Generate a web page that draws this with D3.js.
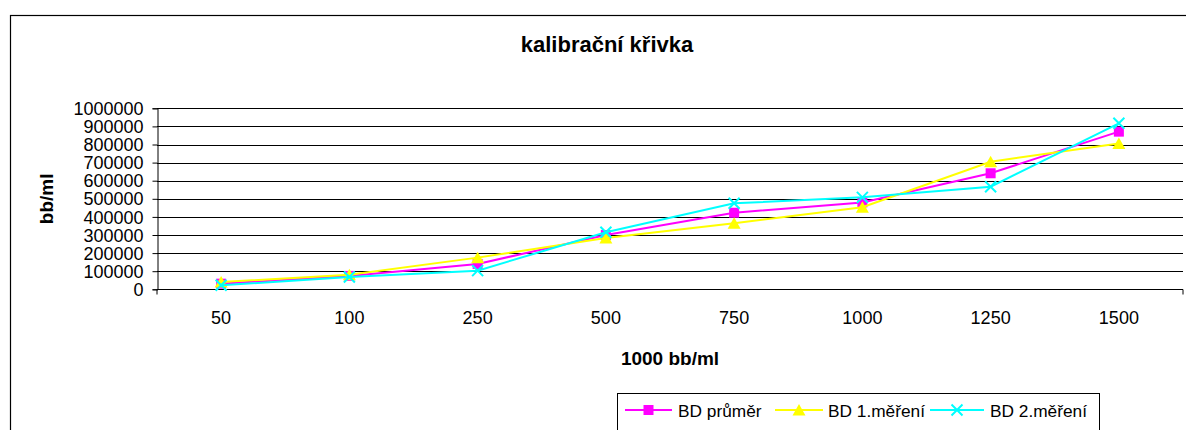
<!DOCTYPE html>
<html><head><meta charset="utf-8">
<script src="https://cdn.jsdelivr.net/npm/d3@7"></script>
<style>
body{margin:0;background:#fff;}
svg text{font-family:"Liberation Sans",Arial,sans-serif;fill:#000;}
</style></head>
<body><svg id="c" width="1186" height="430"></svg>
<script>
const categories = ["50","100","250","500","750","1000","1250","1500"];
const bdPrumer  = [31000, 74000, 140000, 300000, 423000, 480000, 641000, 871000];
const bd1Mereni = [40000, 80000, 175000, 283000, 365000, 453000, 705000, 805000];
const bd2Mereni = [22000, 68000, 103000, 315000, 475000, 508000, 567000, 917000];
const yTicks = [0,100000,200000,300000,400000,500000,600000,700000,800000,900000,1000000];
const seriesNames = ["BD průměr","BD 1.měření","BD 2.měření"];
const seriesColors = ["#FF00FF","#FFFF00","#00FFFF"];
const seriesMarkers = ["square","triangle","x"];
const seriesValues = [bdPrumer, bd1Mereni, bd2Mereni];

const svg = d3.select("#c");
const L = 157, R = 1183, T = 108.3, B = 289.3;
const x = d3.scaleBand().domain(categories).range([L, R]);
const y = d3.scaleLinear().domain([0, 1000000]).range([B, T]);

// chart frame
svg.append("rect").attr("x",10.5).attr("y",15.5).attr("width",1200).attr("height",450)
  .attr("fill","none").attr("stroke","#000").attr("stroke-width",1.2);

// title
svg.append("text").attr("x",607).attr("y",52).attr("text-anchor","middle")
  .style("font-weight","bold").style("font-size","22px").text("kalibrační křivka");

// gridlines
svg.append("g").selectAll("line").data(yTicks.filter(d=>d>0)).join("line")
  .attr("x1",L).attr("x2",R).attr("y1",d=>Math.round(y(d))+0.5).attr("y2",d=>Math.round(y(d))+0.5)
  .attr("stroke","#000").attr("stroke-width",1);

// y axis
const yAxis = d3.axisLeft(y).tickValues(yTicks).tickSize(5).tickPadding(9).tickFormat(d3.format("d"));
const gy = svg.append("g").attr("transform",`translate(${L+0.5},0)`).call(yAxis);
gy.select(".domain").attr("stroke","#000");
gy.selectAll(".tick line").attr("stroke","#000");
gy.selectAll(".tick text").style("font-size","18px").attr("dy","0.34em").attr("fill","#000");

// x axis
const xAxis = d3.axisBottom(x).tickSize(0).tickPadding(22);
const gx = svg.append("g").attr("transform",`translate(0,${Math.round(B)+0.5})`).call(xAxis);
gx.select(".domain").attr("stroke","#000").attr("d",`M${L},5V0H${R}V5`);
gx.selectAll(".tick text").style("font-size","18px").attr("fill","#000");

// axis titles
svg.append("text").attr("x",(L+R)/2).attr("y",365).attr("text-anchor","middle")
  .style("font-weight","bold").style("font-size","19px").text("1000 bb/ml");
svg.append("text").attr("transform",`translate(53,${(T+B)/2}) rotate(-90)`).attr("text-anchor","middle")
  .style("font-weight","bold").style("font-size","19px").text("bb/ml");

const cx = d => x(d) + x.bandwidth()/2;
function drawMarker(g, type, color, px, py){
  if(type==="square"){
    g.append("rect").attr("x",px-5).attr("y",py-5).attr("width",10).attr("height",10).attr("fill",color);
  } else if(type==="triangle"){
    g.append("path").attr("d",`M${px},${py-6}L${px+6.5},${py+5.5}L${px-6.5},${py+5.5}Z`).attr("fill",color);
  } else {
    g.append("path").attr("d",`M${px-5.5},${py-5.5}L${px+5.5},${py+5.5}M${px+5.5},${py-5.5}L${px-5.5},${py+5.5}`)
      .attr("stroke",color).attr("stroke-width",2).attr("fill","none");
  }
}

const line = d3.line().x((d,i)=>cx(categories[i])).y(d=>y(d));
seriesValues.forEach((vals, si) => {
  const g = svg.append("g");
  g.append("path").datum(vals).attr("d",line).attr("fill","none")
    .attr("stroke",seriesColors[si]).attr("stroke-width",2);
  vals.forEach((v,i)=>drawMarker(g, seriesMarkers[si], seriesColors[si], cx(categories[i]), y(v)));
});

// legend
const lg = svg.append("g");
lg.append("rect").attr("x",617.5).attr("y",393.5).attr("width",482).attr("height",50)
  .attr("fill","#fff").attr("stroke","#000").attr("stroke-width",1);
const legItems = [
  {lx1:625, lx2:672, tx:678},
  {lx1:775, lx2:823, tx:828},
  {lx1:930, lx2:984, tx:990}
];
legItems.forEach((it, si) => {
  const ly = 410;
  lg.append("line").attr("x1",it.lx1).attr("x2",it.lx2).attr("y1",ly).attr("y2",ly)
    .attr("stroke",seriesColors[si]).attr("stroke-width",2);
  drawMarker(lg, seriesMarkers[si], seriesColors[si], (it.lx1+it.lx2)/2, ly);
  lg.append("text").attr("x",it.tx).attr("y",ly+6.5).style("font-size","17.3px").text(seriesNames[si]);
});
</script></body></html>
